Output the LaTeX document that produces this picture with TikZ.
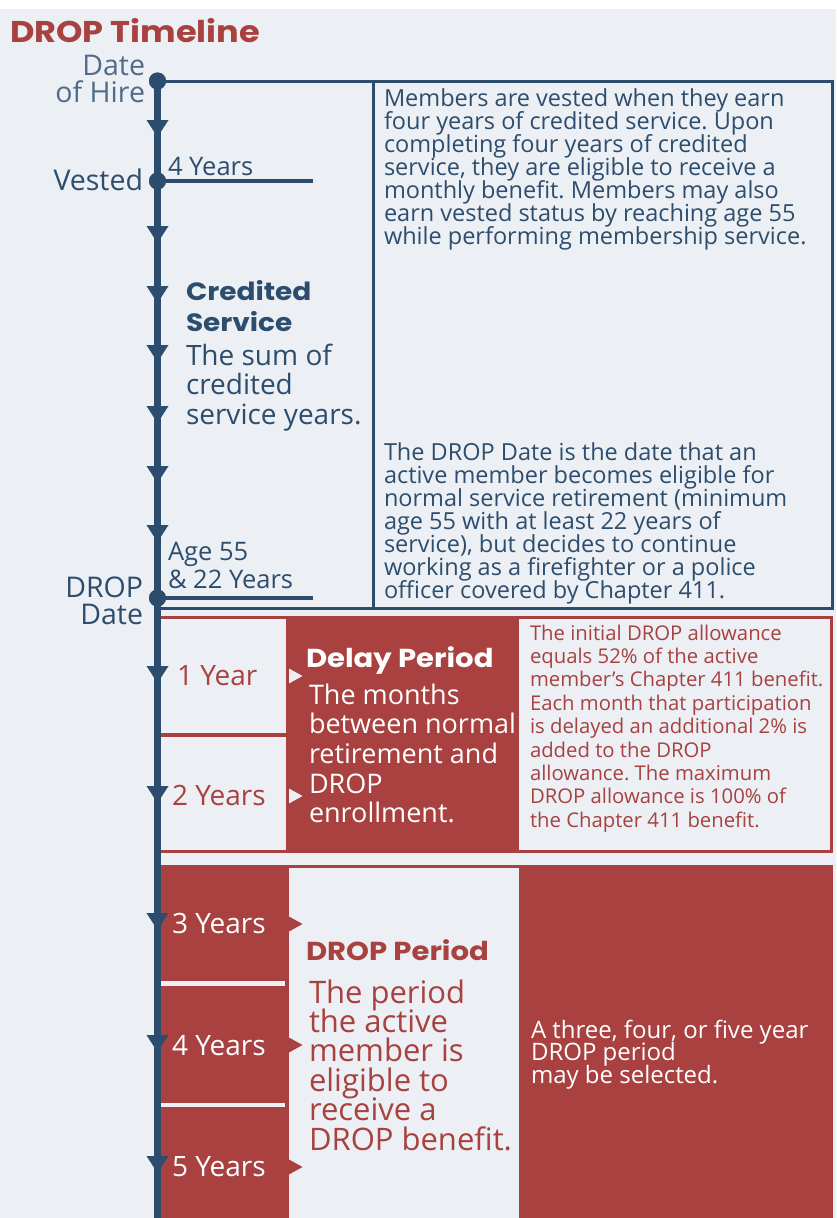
\documentclass[tikz,border=0pt]{standalone}
\usepackage{fontspec}
\setmainfont{Open Sans}
\newfontfamily\headfont{Poppins}[FakeStretch=1.12]
\definecolor{tlblue}{HTML}{2C4D6E}
\definecolor{tlslate}{HTML}{506B8A}
\definecolor{tlred}{HTML}{A8413F}
\definecolor{tlbg}{HTML}{ECEFF4}
\frenchspacing
\newcommand\fsz[2]{\fontsize{#1}{#2}\selectfont}
\newcommand\llines[1]{\vtop{\lineskiplimit=-\maxdimen\let\\\cr\halign{##\hfil\cr#1\crcr}}}
\newcommand\rlines[1]{\vtop{\lineskiplimit=-\maxdimen\let\\\cr\halign{\hfil##\cr#1\crcr}}}
\begin{document}
\begin{tikzpicture}[x=1pt,y=-1pt,
  txt/.style={inner sep=0pt, outer sep=0pt, anchor=base west},
  rtxt/.style={inner sep=0pt, outer sep=0pt, anchor=base east},
  dot/.style={circle, fill=tlblue, minimum size=17pt, inner sep=0pt},
  downtri/.pic={\fill[tlblue] (-11,-17) -- (11,-17) -- (0,0) -- cycle;},
  righttri/.pic={\fill[#1] (0,-7.5) -- (13.5,0) -- (0,7.5) -- cycle;},
  blueline/.style={draw=tlblue, line width=3pt},
  tick/.style={draw=tlblue, line width=4.5pt}]
\useasboundingbox (0,0) rectangle (836,1218);
\fill[white] (0,0) rectangle (836,1218);
\fill[tlbg] (0,9) rectangle (836,1218);

% ---- delay section
\fill[tlred] (159,616) rectangle (833,853);
\fill[tlbg] (161,619) rectangle (286,733);
\fill[tlbg] (161,737) rectangle (286,850);
\fill[tlbg] (519,619) rectangle (830,850);
\pic at (289,676) {righttri=tlbg};
\pic at (289,796) {righttri=tlbg};

% ---- DROP section
\fill[tlred] (159,865) rectangle (833,1218);
\fill[tlbg] (289,868) rectangle (519,1218);
\fill[tlbg] (161,981) rectangle (285,986);
\fill[tlbg] (161,1103) rectangle (285,1107);
\pic at (289,924) {righttri=tlred};
\pic at (289,1045) {righttri=tlred};
\pic at (289,1167) {righttri=tlred};

% ---- nodes on the timeline
\node[dot] (hire) at (157.5,81) {};
\node[dot] (vested) at (157.5,181) {};
\node[dot] (dropdate) at (157.5,598) {};
\coordinate (tlend) at (157.5,1218);
\coordinate (boxtr) at (832,81);
\coordinate (boxbr) at (832,608);
\coordinate (boxbl) at (157.5,608);
\coordinate (divtop) at (373,81);
\coordinate (divbot) at (373,608);
\coordinate (vestedend) at (313,181);
\coordinate (dropend) at (313,598);

% ---- blue box
\draw[blueline] (hire.center) -- (boxtr) -- (boxbr) -- (boxbl);
\draw[blueline] (divtop) -- (divbot);
\draw[tick] (vested.center) -- (vestedend);
\draw[tick] (dropdate.center) -- (dropend);

% ---- timeline
\draw[tlblue, line width=6.5pt] (hire.center) -- (tlend);
\node[dot] at (hire) {};
\node[dot] at (vested) {};
\node[dot] at (dropdate) {};
\foreach \yy in {137,243,303,362,423,483,542,683,803,930,1052,1173}
  \pic at (157.5,\yy) {downtri};

% ---- texts
\node[txt, text=tlred, font=\headfont\bfseries\fsz{30}{32}] (title) at (10,42) {DROP Timeline};
\node[rtxt, text=tlslate, font=\fsz{28.5}{27}] (hirelbl) at (145,75) {\rlines{Date\\of Hire}};
\node[rtxt, text=tlblue, font=\fsz{28.5}{27}] (vestlbl) at (143,190) {Vested};
\node[txt, text=tlblue, font=\fsz{25.5}{27}] (fouryr) at (168,175) {4 Years};
\node[txt, text=tlblue, font=\headfont\bfseries\fsz{25}{31}] (credhead) at (186,300) {\llines{Credited\\Service}};
\node[txt, text=tlblue, font=\fsz{28}{29.7}] (credbody) at (186,365) {\llines{The sum of\\credited\\service years.}};
\node[txt, text=tlblue, font=\fsz{23.5}{23}] (vestdesc) at (384,106) {\llines{Members are vested when they earn\\four years of credited service. Upon\\completing four years of credited\\service, they are eligible to receive a\\monthly benefit. Members may also\\earn vested status by reaching age 55\\while performing membership service.}};
\node[txt, text=tlblue, font=\fsz{23.5}{23}] (dropdesc) at (384,460) {\llines{The DROP Date is the date that an\\active member becomes eligible for\\normal service retirement (minimum\\age 55 with at least 22 years of\\service), but decides to continue\\working as a firefighter or a police\\officer covered by Chapter 411.}};
\node[txt, text=tlblue, font=\fsz{25.5}{28.5}] (agelbl) at (168,560) {\llines{Age 55\\\& 22 Years}};
\node[rtxt, text=tlblue, font=\fsz{28.5}{27}] (droplbl) at (143,597) {\rlines{DROP\\Date}};

\node[txt, text=tlred, font=\fsz{28}{27}] (y1) at (177,685) {1 Year};
\node[txt, text=tlred, font=\fsz{28}{27}] (y2) at (172,805) {2 Years};
\node[txt, text=white, font=\headfont\bfseries\fsz{26}{30}] (delayhead) at (306,667) {Delay Period};
\node[txt, text=white, font=\fsz{27}{29.7}] (delaybody) at (309,704) {\llines{The months\\between normal\\retirement and\\DROP\\enrollment.}};
\node[txt, text=tlred, font=\fsz{20.3}{23.4}] (delaydesc) at (530,640) {\llines{The initial DROP allowance\\equals 52\% of the active\\member's Chapter 411 benefit.\\Each month that participation\\is delayed an additional 2\% is\\added to the DROP\\allowance. The maximum\\DROP allowance is 100\% of\\the Chapter 411 benefit.}};

\node[txt, text=white, font=\fsz{28}{27}] (y3) at (172,933) {3 Years};
\node[txt, text=white, font=\fsz{28}{27}] (y4) at (172,1055) {4 Years};
\node[txt, text=white, font=\fsz{28}{27}] (y5) at (172,1176) {5 Years};
\node[txt, text=tlred, font=\headfont\bfseries\fsz{26}{30}] (drophead) at (306,960) {DROP Period};
\node[txt, text=tlred, font=\fsz{31}{29.4}] (dropbody) at (309,1003) {\llines{The period\\the active\\member is\\eligible to\\receive a\\DROP benefit.}};
\node[txt, text=white, font=\fsz{24}{22.5}] (dropdesc2) at (531,1038) {\llines{A three, four, or five year\\DROP period\\may be selected.}};
\end{tikzpicture}
\end{document}
